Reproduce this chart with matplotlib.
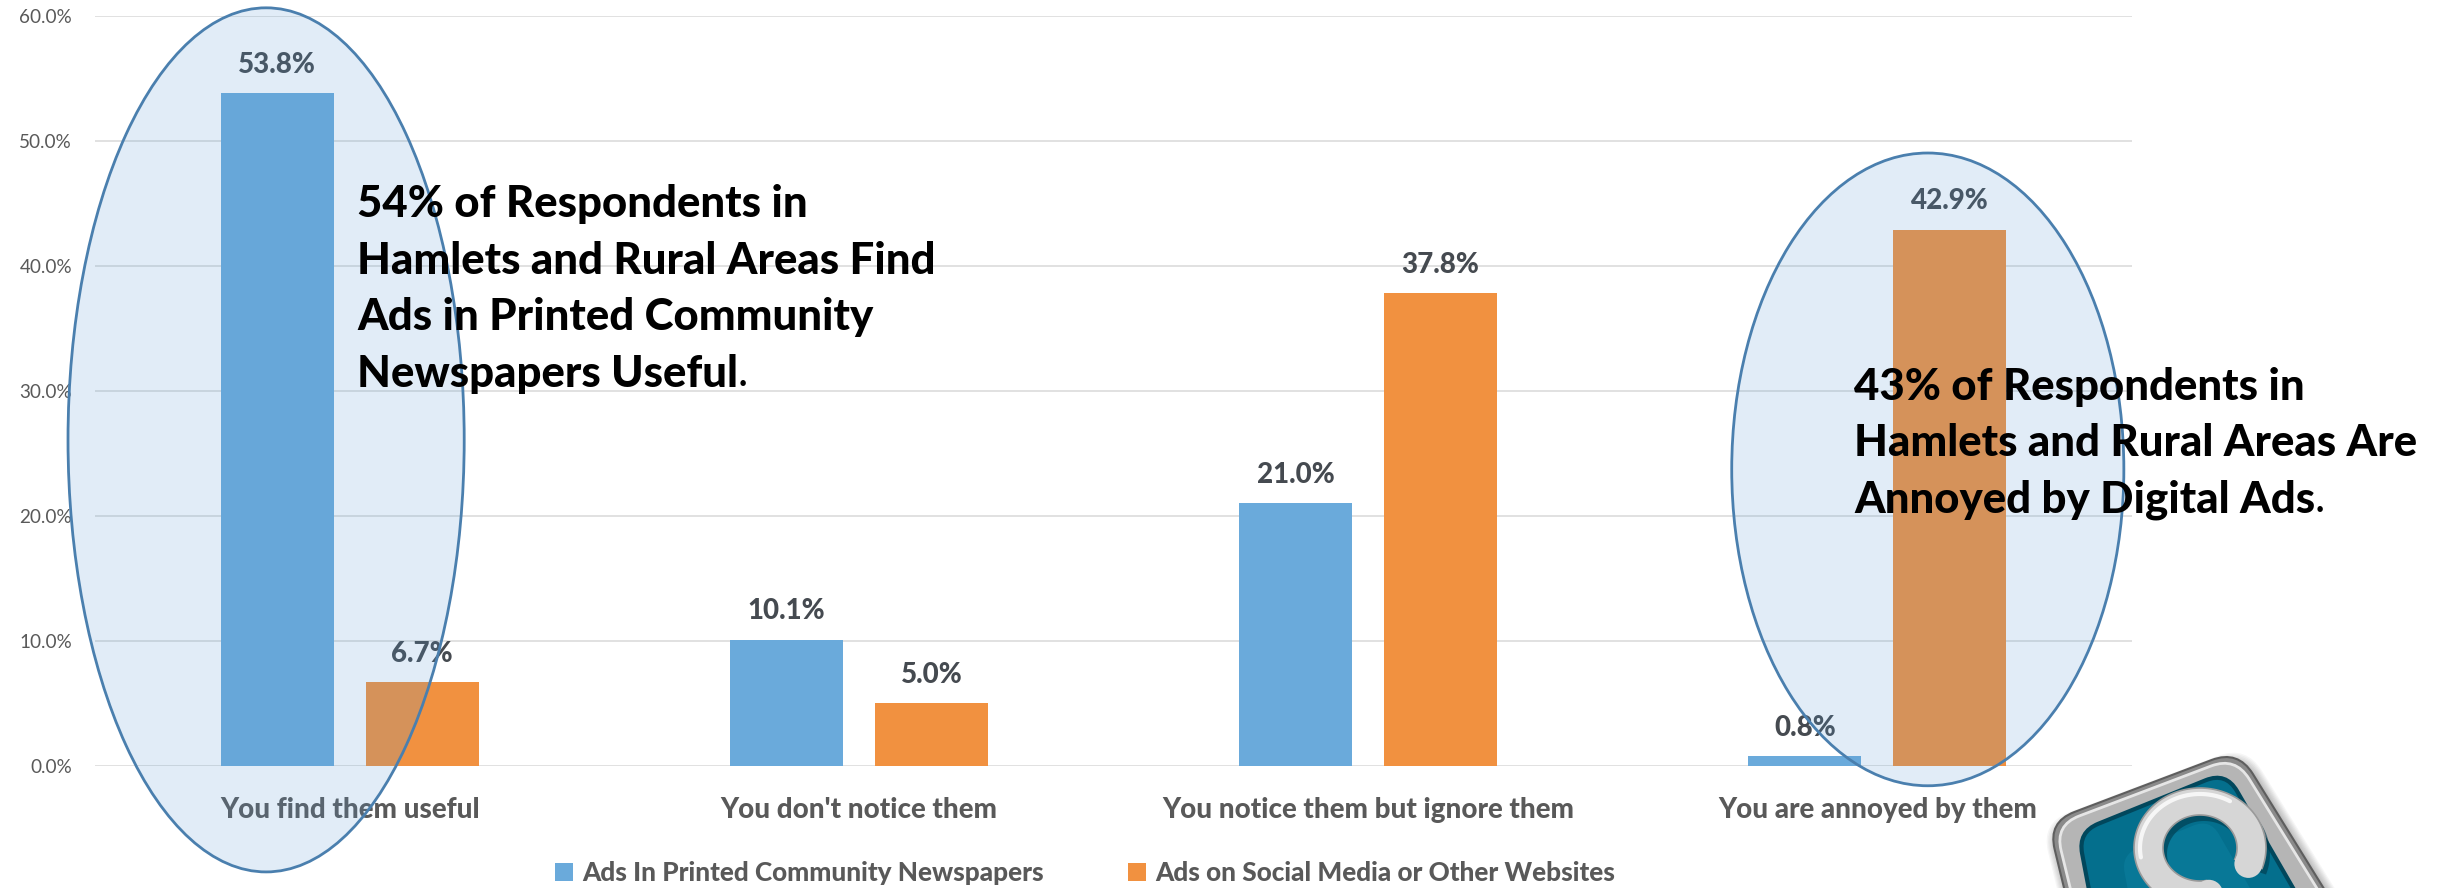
import numpy as np
import matplotlib.pyplot as plt
from matplotlib.patches import Ellipse, PathPatch, Polygon, Circle
from matplotlib.path import Path
from matplotlib.ticker import MultipleLocator, PercentFormatter

plt.rcParams["font.family"] = ["Lato", "DejaVu Sans"]

# survey answers
categories = [
    "You find them useful",
    "You don't notice them",
    "You notice them but ignore them",
    "You are annoyed by them",
]
printed = [53.8, 10.1, 21.0, 0.8]
digital = [6.7, 5.0, 37.8, 42.9]
series_names = [
    "Ads In Printed Community Newspapers",
    "Ads on Social Media or Other Websites",
]

callout_left = [
    "54% of Respondents in",
    "Hamlets and Rural Areas Find",
    "Ads in Printed Community",
    "Newspapers Useful",
]
callout_right = [
    "43% of Respondents in",
    "Hamlets and Rural Areas Are",
    "Annoyed by Digital Ads",
]

BLUE = "#6AAADB"
ORANGE = "#F19140"
GRID = "#D9D9D9"
TEXT_GREY = "#595959"
LABEL_GREY = "#454A50"
RING_EDGE = "#4A7FAE"
RING_FILL = (0.357, 0.608, 0.835, 0.18)
HEAVY = 900

W, H = 2442, 888
fig = plt.figure(figsize=(W / 100, H / 100), dpi=100)
ax = fig.add_axes([95 / W, 1 - 766 / H, (2132 - 95) / W, (766 - 15.7) / H])

x = np.arange(len(categories))
width = 0.222
offset = 0.1424
b1 = ax.bar(x - offset, printed, width, color=BLUE, zorder=2, label=series_names[0])
b2 = ax.bar(x + offset, digital, width, color=ORANGE, zorder=2, label=series_names[1])

ax.set_xlim(-0.5, 3.5)
ax.set_ylim(0, 60)
ax.yaxis.set_major_locator(MultipleLocator(10))
ax.yaxis.set_major_formatter(PercentFormatter(decimals=1))
ax.grid(axis="y", color=GRID, lw=1.1)
ax.set_axisbelow(True)
for s in ax.spines.values():
    s.set_visible(False)
ax.tick_params(axis="both", length=0)
ax.tick_params(axis="y", labelsize=13.6, labelcolor=TEXT_GREY, pad=16.5)
ax.tick_params(axis="x", pad=22)
ax.set_xticks(x)
ax.set_xticklabels(categories, fontsize=20, fontweight=HEAVY, color=TEXT_GREY)

for bars in (b1, b2):
    ax.bar_label(bars, fmt="%.1f%%", padding=11, fontsize=20,
                 fontweight=HEAVY, color=LABEL_GREY)

# highlight rings around the two key answers
for cx, cy, ew, eh in [(-0.164, 26.08, 0.778, 69.1), (3.099, 23.72, 0.770, 50.6)]:
    ax.add_patch(Ellipse((cx, cy), ew, eh, facecolor=RING_FILL,
                         edgecolor=RING_EDGE, lw=2, zorder=4, clip_on=False))

# callout texts, one line at a time
step = 40.8
for (tx, ty), lines in [((0.0145, 43.9), callout_left), ((2.954, 29.3), callout_right)]:
    for i, line in enumerate(lines):
        t = ax.annotate(line, xy=(tx, ty), xytext=(0, -i * step),
                        textcoords="offset points", fontsize=31.5,
                        fontweight=HEAVY, color="black", va="baseline",
                        ha="left", zorder=6, annotation_clip=False)
    # the closing period is set in regular weight
    ax.annotate(".", xy=(1, 0), xycoords=t, fontsize=31.5, color="black",
                va="bottom", ha="left", zorder=6, annotation_clip=False)

ax.legend(loc="center", bbox_to_anchor=(1085 / W, 1 - 873 / H),
          bbox_transform=fig.transFigure, ncol=2, frameon=False,
          handlelength=0.7, handleheight=0.7, handletextpad=0.35,
          columnspacing=3.2, prop={"weight": HEAVY, "size": 18.8},
          labelcolor=TEXT_GREY)


# corner logo, drawn in pixel space
def rounded_poly(pts, r):
    pts = np.asarray(pts, float)
    n = len(pts)
    verts, codes = [], []
    for i in range(n):
        p0, p1, p2 = pts[i - 1], pts[i], pts[(i + 1) % n]
        a = p1 + (p0 - p1) / np.linalg.norm(p0 - p1) * r
        b = p1 + (p2 - p1) / np.linalg.norm(p2 - p1) * r
        verts.append(a)
        codes.append(Path.MOVETO if i == 0 else Path.LINETO)
        verts += [p1, b]
        codes += [Path.CURVE3, Path.CURVE3]
    verts.append(verts[0])
    codes.append(Path.CLOSEPOLY)
    return Path(verts, codes)


lax = fig.add_axes([0, 0, 1, 1], zorder=10)
lax.set_xlim(0, W)
lax.set_ylim(H, 0)
lax.axis("off")
lax.patch.set_alpha(0)

outer = np.array([(2048, 822), (2238, 750), (2365, 955), (2095, 1015)], float)
centre = outer.mean(axis=0)
for k in range(8, 0, -1):
    grown = centre + (outer - centre) * (1 + 0.01 * k) + np.array([4, 6])
    lax.add_patch(PathPatch(rounded_poly(grown, 30), facecolor="black",
                            edgecolor="none", alpha=0.035))
lax.add_patch(PathPatch(rounded_poly(outer, 28), facecolor="#8A8A8A",
                        edgecolor="#5E5E5E", lw=1.5))
rim = centre + (outer - centre) * 0.95
lax.add_patch(PathPatch(rounded_poly(rim, 26), facecolor="#B5B5B5",
                        edgecolor="#E6E6E6", lw=2))
inner = np.array([(2078, 832), (2226, 772), (2330, 952), (2110, 1000)], float)
lax.add_patch(PathPatch(rounded_poly(inner, 22), facecolor="#046F8D",
                        edgecolor="#01475C", lw=3))
glow = inner.mean(axis=0) + (inner - inner.mean(axis=0)) * 0.6
lax.add_patch(PathPatch(rounded_poly(glow, 18), facecolor="#0A7C9C",
                        edgecolor="none", alpha=0.7))

# silver ring with an opening to the lower right
rc = np.array([2200, 848])
t = np.radians(np.linspace(80, 380, 120))
outer_ring = np.column_stack([rc[0] + 66 * np.cos(t), rc[1] + 60 * np.sin(t)])
inner_ring = np.column_stack([rc[0] + 37 * np.cos(t), rc[1] + 33 * np.sin(t)])[::-1]
lax.add_patch(Polygon(np.vstack([outer_ring, inner_ring]) + np.array([4, 6]),
                      facecolor="#01384A", edgecolor="none", alpha=0.6))
lax.add_patch(Polygon(np.vstack([outer_ring, inner_ring]), facecolor="#D6D6D6",
                      edgecolor="#9A9A9A", lw=1.2))
for ang in (80, 380):
    a = np.radians(ang)
    cap = rc + np.array([51.5 * np.cos(a), 46.5 * np.sin(a)])
    lax.add_patch(Circle(cap, 14, facecolor="#D6D6D6", edgecolor="none"))
hl = np.radians(np.linspace(170, 300, 60))
lax.plot(rc[0] + 60 * np.cos(hl), rc[1] + 54 * np.sin(hl), color="white",
         lw=3, alpha=0.8, solid_capstyle="round")

fig.savefig("out.png", dpi=100, facecolor="white")
